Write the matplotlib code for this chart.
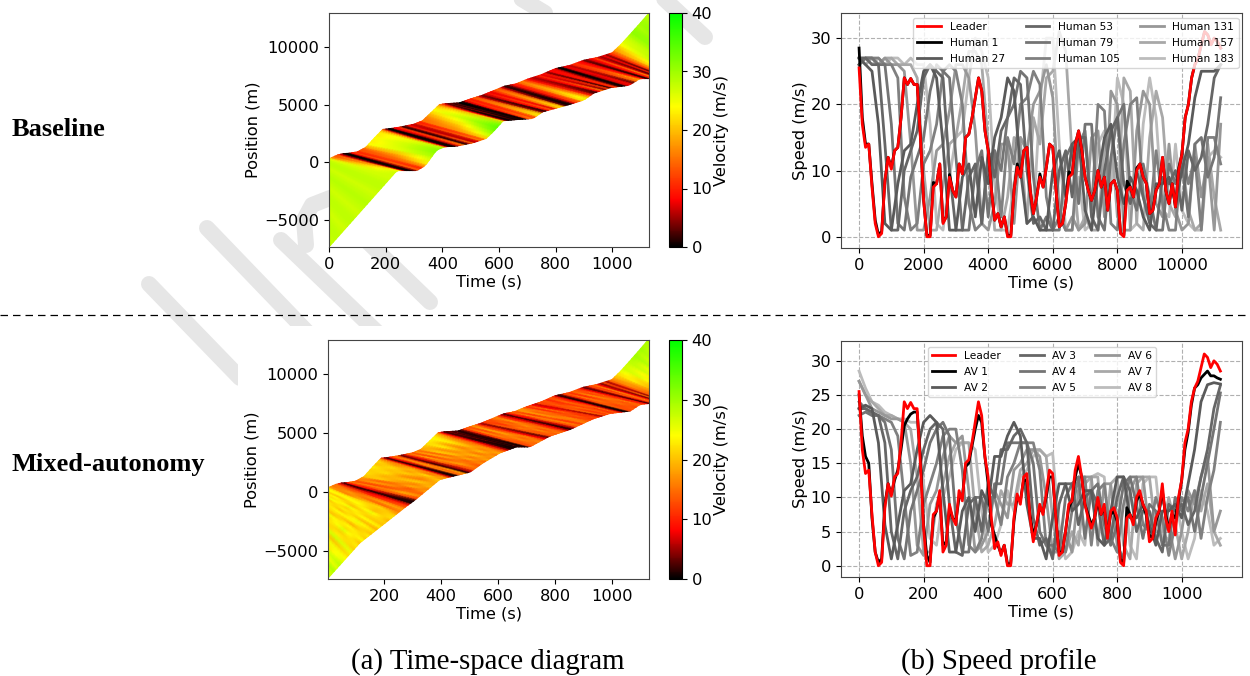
import matplotlib
matplotlib.use('Agg')
import matplotlib.pyplot as plt
import numpy as np
from matplotlib.colors import LinearSegmentedColormap
from matplotlib.lines import Line2D
from matplotlib.patches import Rectangle

#Leader speed, one value every 10 s (same leader in both rows)
leader = [25.5,17,13.5,14,7.5,2,0,0.5,8.5,12,
          10.2,13,13.5,18,24,23,23.9,23,23,15,
          5.5,0,0,7.5,8,11,2,3,9,7,
          6,11,9.5,15,15.5,18,21,24,22,16,
          13,7,2.5,3.5,1.5,3,0,0,7,10.5,
          9,13,13.5,7,3.5,6,9,7.5,10.5,14,
          13.5,7,1.5,2,5,9,9.5,14,16,13,
          9,7,5.5,7,10,7.5,9,4,8,8.5,
          7,0.5,0,7,7.5,6,10,11,9,8,
          3.5,4,7,8,12,7,5,8,4.5,10,
          12.5,18,20,24,26,27,29,31,30.5,29,
          30,29.5,28.5]
human_1 = [28.5,18,14,14,8,2.5,0.3,0.8,8.5,12,
           10.5,13,13.5,18,24,23,23.9,23,23,15,
           5.5,0.2,0.2,8.2,8,11,2.2,3,9.4,7,
           6,11,9.5,15,15.5,18,21,24,22,16,
           13,7,2.5,3.5,1.5,3,0.2,0.2,7,11,
           9,13,13.5,7,3.5,6,9.5,7.5,10.5,14,
           13.5,7,1.5,2,5,9.8,9.5,14,16,13,
           9,7,5.5,7,10,7.5,9,4,8,8.5,
           7,0.5,0.2,8.4,7.5,6,10.4,11,9,8,
           3.5,4,7,8,12,7,5,8,4.5,10.4,
           12.5,18,20,24,26,27,29,31,30.5,29,
           30,29.5,28.5]
av_1 = [25,19,16,15,7,2,0.5,1,9,12,
        10.5,12.5,14,17,20.5,21.5,22.2,22.5,22.5,16,
        6,1.5,0.5,7,8,10.5,3,3.5,8.5,7,
        6.5,10,10,14.5,15,17.5,20,22,21,16,
        12,6,4.5,3,1.8,3,0.3,0.3,6.5,10,
        9.5,12.5,12.5,7.5,4.5,6,8.5,7.8,10,13,
        13,7,2,2,5,8.5,9.5,13,15,13,
        9,7.5,6,7,9.5,7.5,8.5,4.5,7.5,8,
        6.5,1,0.3,8.5,7.5,6.5,9.5,10.5,9,7.5,
        4.5,4,6.5,8,11,7.5,5.5,7.5,7,9.5,
        12.5,17,19.5,23.5,26,26.5,27.5,28,28.5,27.8,
        27.8,27.5,27.3]

#Followers, one value every 20 s
human_27 = [27,26,25,17,2,1,8,13,14,20,
            25,26,24,14,1,1,9,11,3,12,
            8,15,18,24,22,10,2,3,1,1,
            10,13,6,14,15,4,1,9,15,17,
            9,5,9,7,3,1,8,8,9,5,
            10,14,21,25,25,25,26]
human_53 = [27,27,26,26,14,1,1,10,13,16,
            24,26,25,24,10,1,1,9,11,2,
            13,9,16,18,24,23,10,2,3,1,
            1,10,13,6,15,15,3,1,10,16,
            18,8,5,10,6,2,1,9,8,10,
            4,13,10,12,17,24,26]
human_79 = [26,27,27,26,26,17,2,1,9,12,
            15,22,26,25,24,12,1,1,10,13,
            3,13,10,18,20,25,24,9,1,3,
            1,1,12,14,5,17,17,3,1,12,
            18,20,7,4,11,6,1,1,11,8,
            11,3,14,15,9,12,21]
human_105 = [26,27,27,27,26,26,24,6,1,2,
             11,13,17,25,26,25,20,5,1,2,
             12,13,3,15,11,20,21,25,23,6,
             1,3,1,1,14,16,4,20,19,2,
             1,14,20,21,6,3,13,5,1,1,
             13,8,12,1,15,15,11]
human_131 = [26,27,27,26,27,26,26,25,14,1,
             1,6,13,14,19,26,26,24,16,2,
             1,5,14,14,2,15,13,20,22,26,
             21,4,1,3,1,2,15,16,3,22,
             20,1,1,16,22,20,5,3,14,4,
             1,2,14,6,12,1,17]
human_157 = [27,26,27,26,27,27,26,26,26,24,
             10,1,1,8,14,15,21,28,28,26,
             14,1,1,6,15,14,2,18,14,24,
             25,31,28,12,1,3,1,1,14,16,
             3,24,22,2,1,15,22,18,5,3,
             12,4,1,2,14,6,1]
human_183 = [27,27,26,27,26,27,27,26,27,26,
             26,17,2,1,9,15,16,24,30,28,
             24,8,1,1,8,15,13,3,20,30,
             30,14,1,1,9,1,2,14,16,7,
             24,20,1,2,17,24,18,4,3,14,
             4,2,1,1,12,13,12]

av_2 = [23,23.5,23,18,6,1,6,11,12,17,
        21,22,21,11,2,2,8,10,5,11,
        9,16,16,19,21,19,9,4,4,1,
        7,12,12,8,9,11,11,4,3,8,
        13,13,7,7,9,6,3,8,8,9,
        7,12,17,24,26.5,26.8,26.6]
av_3 = [23,23,22.5,22,18,5,1,8,11,13,
        17,20,21,20,9,2,1.5,9,10,5,
        12,10,17,17,19,20,18,7,3,4,
        1,9,12,12,6,10,11,9,3,4,
        10,13,11,5,8,8,4,2,9,8,
        9,6,8,13,17,23,26.4]
av_4 = [22,22.5,22,22,21,17,4,1,8,11,
        14,18,20,21,19,7,2,2,10,10,
        5,12,12,18,18,18,18,15,5,3,
        3,2,10,12,13,4,11,12,6,3,
        6,12,13,9,4,9,8,3,3,10,
        8,10,5,10,15,20,25.3]
av_5 = [24,23,22,22,21.5,21,19,10,1.5,2,
        9,12,15,19,20,20,14,3,2,4,
        10,10,6,13,15,18,18,18,14,3,
        1.5,5,2,8,13,13,3,11,12,4,
        2,9,13,13,6,5,10,7,1.5,6,
        10,8,11,4,10,14,21]
av_6 = [27,25,23,22.5,22,21.5,21.5,21,15,3,
        1.5,9,11,16,19,18,19,11,2,3,
        5,11,9,7,14,15,17,17,16,10,
        2,2,5,2,11,13,13,3,12,12,
        3,1,11,13,13,5,6,10,6,1,
        5,11,9,13,16,5,8]
av_7 = [27,25,24,23,22,22,21.5,21,20,13,
        2,2,9,12,16,18,18,18,8,2,
        3,6,11,9,9,14,15,17,17,16,
        7,1,2,5,3,12,13,13,3,12,
        13,3,1,12,13,13,5,5,10,6,
        1,5,11,8,12,5,3]
av_8 = [28.5,26,24,23.5,22.5,22,21.5,21.5,21,21,
        12,4,3,10,13,17,18,18,17,8,
        2,3,6,11,8,13,14,16,17,16,
        16.5,6,1,2,5,3,13,13.5,13,3,
        13,13,3,1,12,13,13,4,4,10,
        5,1,4,11,8,3,4]

#Platoon edges: leader on top, last vehicle at the bottom
top_t = [0,30,50,70,100,130,160,190,210,250,300,330,360,390,410,460,500,540,580,620,
         660,700,750,800,850,900,950,1000,1030,1060,1100,1130]
top_x = [300,630,750,780,900,1300,2100,2850,2900,3050,3300,3600,4300,5000,5080,5150,5500,5800,6200,6600,
         6800,7200,7600,8130,8400,8850,9100,9500,10200,11000,12100,12950]
tail_t_base = [0,240,270,310,340,380,410,450,510,555,580,615,660,720,755,840,900,935,995,1060,1098,1130]
tail_x_base = [-7350,-720,-720,-720,-290,1060,1350,1400,1700,2070,2650,3600,3700,3800,4380,4950,5400,6000,6480,6680,7260,7260]
tail_t_mix = [0,115,197,279,308,396,443,502,548,607,665,712,782,853,935,994,1064,1099,1130]
tail_x_mix = [-7400,-4320,-2770,-1210,-700,1050,1330,1670,2460,3300,3810,3810,4720,5280,6190,6640,6840,7400,7480]

#Velocity along the jam waves, every 10 s of wave time from -230 s to 1130 s
before_base = [27.5,28,27.5,28,28,27.5,27,27.5,28,28,27.5,27,27.5,28,28.5,28,27.5,27,27.5,28,28,27.5,27]
head_base = before_base + leader + [28]
mid_base = before_base + [26,22,18,16,5,1,0.5,1,5,14,
    11,14,16,20,26,27,27,26,25,10,
    2,0.5,0.5,5,10,12,1.5,3,11,6,
    6,13,11,17,19,22,25,28,26,19,
    8,1.5,1,4,1,2,0.5,0.5,9,12,
    10,17,17,5,1.5,8,12,8,14,18,
    16,4,1,1.5,6,10,11,17,20,16,
    10,6,4,8,12,6,10,2.5,9,10,
    4,0.5,0.5,6,8,5,12,14,10,8,
    2,3,8,10,15,7,3,9,3,11,
    15,21,24,27,28,28,29,30,31,31,
    31,31,31,31]
tail_base = before_base + [27,27,25,22,7,1,0.5,0.5,4,14,
    10,16,23,26,29,31,31,30,28,8,
    1,0.5,0.5,6,13,15,1,5,15,6,
    7,16,14,21,27,30,33,34,32,22,
    5,0.5,0.5,2,0.5,1,0.5,0.5,12,16,
    12,22,22,4,1,9,14,7,18,22,
    20,3,0.5,1,7,13,14,22,25,20,
    10,3,2,8,16,4,12,1,10,12,
    3,0.5,0.5,7,9,3,15,18,11,7,
    1,2,10,12,18,5,1.5,11,2,13,
    18,24,26,29,30,31,31,32,32,31,
    31,31,31,31]
head_mix = [24,22,25,21,26,20,24,22,25,20,23,21,25,20,22,24,20,23,21,25,20,22,24,
    24,18,15,16,11,6,1.5,8,14,15,
    13,16,17,20,22,21,23,20,22,14,
    6,1.5,8,14,15,13,3,6,13,15,
    13,17,15,18,20,22,23,24,22,16,
    8,3,2,4,2,3,1,2,11,14,
    13,17,16,10,5,11,13,12,15,16,
    13,7,2,7,12,14,13,17,18,15,
    11,13,9,6,13,12,14,10,13,13,
    7,1.5,3,12,13,11,14,14,12,9,
    3,5,12,13,15,9,4,13,5,14,
    16,20,22,25,27,27,28,29,30,29,
    30,29,29,28]
upper_mix = [22,25,21,24,22,26,21,24,20,25,21,23,20,24,22,21,24,20,25,22,24,20,23,
    24,16,18,14,12,5,1,9,12,17,
    12,18,14,21,19,22,20,22,18,15,
    7,1,7,12,18,12,3,7,11,19,
    12,19,14,21,17,23,18,23,19,13,
    9,3,2,3,2,2,1,3,10,17,
    12,19,13,11,4,14,11,15,13,18,
    11,8,2,8,10,17,11,18,14,16,
    10,15,8,7,11,14,12,11,15,11,
    8,1,3,10,16,10,17,12,14,8,
    3,5,13,11,17,7,5,12,6,13,
    17,18,23,22,26,24,27,25,28,26,
    27,26,28,25]
mid_mix = [24,22,25,21,26,20,24,22,25,20,23,21,25,20,22,24,20,23,21,25,20,22,24,
    23,20,15,17,10,8,1,6,14,16,
    13,17,15,18,20,17,21,18,20,15,
    8,1,4,15,17,14,2,5,15,17,
    14,18,15,20,17,19,16,20,17,14,
    8,2,1,3,1,2,1,2,12,16,
    15,18,15,9,4,13,16,14,17,15,
    14,7,2,6,14,16,13,17,15,14,
    12,14,11,6,14,13,15,12,14,13,
    8,1,2,13,15,13,16,14,12,9,
    3,5,14,13,16,8,4,14,5,14,
    15,17,19,20,21,22,21,22,23,22,
    22,23,22,23]
lower_mix = [27,25,28,24,26,22,25,20,27,23,21,26,22,24,19,23,25,20,24,21,22,25,20,
    20,22,14,19,12,9,1,3,13,19,
    15,13,19,16,21,16,18,22,16,16,
    7,1,2,16,14,18,2,5,12,18,
    16,14,19,15,20,15,20,16,18,12,
    7,2,1,2,1,2,1,1,13,13,
    17,14,17,8,3,14,13,17,13,16,
    11,8,1,6,12,17,11,15,17,12,
    14,11,12,5,15,11,14,13,11,15,
    6,1,1,14,12,15,13,16,10,10,
    2,6,11,15,13,9,3,15,4,15,
    13,19,17,22,19,23,20,23,21,24,
    21,24,21,24]
tail_mix = [28,27,29,26,28,26,24,22,25,21,23,20,24,21,23,20,22,19,23,20,21,19,22,
    22,18,16,18,14,10,1,1,12,17,
    14,18,16,20,18,19,21,17,19,14,
    6,0.5,1,14,16,17,1,6,14,15,
    13,17,14,19,16,18,15,19,16,13,
    6,1,0.5,1,0.5,2,0.5,1,12,15,
    14,17,14,8,3,12,15,13,16,14,
    13,6,1,5,13,15,12,16,14,13,
    11,13,10,5,13,12,14,11,13,12,
    7,0.5,1,12,14,12,15,13,11,8,
    2,4,13,12,15,7,3,13,4,13,
    15,17,19,20,21,22,21,22,23,22,
    22,23,22,23]

human_names = ['Human 27','Human 53','Human 79','Human 105','Human 131','Human 157','Human 183']
av_names = ['AV 2','AV 3','AV 4','AV 5','AV 6','AV 7','AV 8']
grays = ['#5a5a5a','#666666','#747474','#808080','#979797','#a8a8a8','#bcbcbc']

W,H = 1250,676
plt.rcParams['font.size'] = 11.7
fig = plt.figure(figsize=(W/100,H/100),dpi=100)

def box(x0,y0,x1,y1):
    return [x0/W,1-y1/H,(x1-x0)/W,(y1-y0)/H]

def stroke(xs,ys):
    fig.add_artist(Line2D(np.array(xs)/W,1-np.array(ys)/H,color='#e6e6e6',lw=11.5,
                          solid_capstyle='round',zorder=-2))

#Watermark behind the panels
stroke([149,240],[284,378])
stroke([207,310],[228,335])
stroke([281,380],[240,335])
stroke([340,430],[215,302])
stroke([660,705],[-5,37])
stroke([515,545],[-5,13])
stroke([306,304,312,330,350],[245,220,205,198,198])
fig.add_artist(Rectangle((238/W,0),1-238/W,1-326/H,transform=fig.transFigure,fc='white',ec='none',zorder=-1))

cdict = {'red':[(0,0,0),(0.2,1,1),(0.6,1,1),(1,0,0)],
         'green':[(0,0,0),(0.2,0,0),(0.6,1,1),(1,1,1)],
         'blue':[(0,0,0),(1,0,0)]}
cmap = LinearSegmentedColormap('velocity',cdict)

def time_space(pos,cpos,tail_t,tail_x,table,delay,xlim,ylim):
    ax = fig.add_axes(box(*pos))
    table = np.array(table,dtype=float)
    rows = np.linspace(0,1,table.shape[0])
    tau = -230+10*np.arange(table.shape[1])
    #each wave is a straight line from the leader down to the last vehicle
    s = np.linspace(0,1,25)
    V = np.array([np.interp(s,rows,table[:,j]) for j in range(table.shape[1])]).T
    X = tau[None,:]+(1-s)[:,None]*delay
    hi = np.interp(tau,top_t,top_x)
    lo = np.interp(tau+delay,tail_t,tail_x)
    Y = lo[None,:]+s[:,None]*(hi-lo)[None,:]
    m = ax.pcolormesh(X,Y,V,shading='gouraud',cmap=cmap,vmin=0,vmax=40)
    ax.set_xlim(*xlim)
    ax.set_ylim(*ylim)
    ax.set_xticks([t for t in range(0,1001,200) if t>=xlim[0]])
    ax.set_yticks([-5000,0,5000,10000])
    ax.set_xlabel('Time (s)',labelpad=2)
    ax.set_ylabel('Position (m)',labelpad=2.5)
    for sp in ax.spines.values():
        sp.set_color('#444444')
    cax = fig.add_axes(box(*cpos))
    cb = fig.colorbar(m,cax=cax,ticks=[0,10,20,30,40])
    cb.set_label('Velocity (m/s)',labelpad=1)
    return ax

def speed(pos,scale,first,first_name,names,series,xlim,ylim,yticks,xticks,anchor,cs):
    ax = fig.add_axes(box(*pos))
    fine = np.arange(len(leader))*10*scale
    ax.plot(fine,leader,color='red',lw=2,label='Leader',zorder=5)
    ax.plot(fine,first,color='k',lw=2,label=first_name,zorder=4)
    for i in range(len(series)):
        t = np.arange(len(series[i]))*20*scale
        ax.plot(t,series[i],color=grays[i],lw=2,label=names[i],zorder=3-i*0.1)
    ax.grid(True,ls='--',lw=0.8,color='#b0b0b0')
    ax.set_xlim(*xlim)
    ax.set_ylim(*ylim)
    ax.set_xticks(xticks)
    ax.set_yticks(yticks)
    ax.set_xlabel('Time (s)',labelpad=2)
    ax.set_ylabel('Speed (m/s)',labelpad=2)
    for sp in ax.spines.values():
        sp.set_color('#444444')
    leg = ax.legend(ncol=3,fontsize=7.7,loc='upper left',bbox_to_anchor=anchor,columnspacing=cs,
                    handlelength=2.2,labelspacing=0.55,borderaxespad=0)
    leg.set_zorder(10)
    return ax

time_space((329,13,649,247),(669,13,682,247),tail_t_base,tail_x_base,[tail_base,mid_base,head_base],225,(0,1130),(-7350,12950))
time_space((328,340,649,579),(669,340,682,579),tail_t_mix,tail_x_mix,[tail_mix,lower_mix,mid_mix,upper_mix,head_mix],235,(3.5,1130),(-7370,12850))

speed((841,13,1242,248),10,human_1,'Human 1',human_names,
      [human_27,human_53,human_79,human_105,human_131,human_157,human_183],
      (-560,11860),(-1.7,33.8),[0,10,20,30],[0,2000,4000,6000,8000,10000],(0.18,0.98),1.95)
speed((841,341,1242,577),1,av_1,'AV 1',av_names,[av_2,av_3,av_4,av_5,av_6,av_7,av_8],
      (-56,1187),(-1.65,32.9),[0,5,10,15,20,25,30],[0,200,400,600,800,1000],(0.216,0.975),1.8)

#Page furniture
fig.add_artist(Line2D([0,1],[1-315/H,1-315/H],color='k',lw=0.9,ls=(0,(6,4))))
serif = ['Liberation Serif','DejaVu Serif']
fig.text(12/W,1-130/H,'Baseline',family=serif,weight='bold',fontsize=19,va='center')
fig.text(12/W,1-465/H,'Mixed-autonomy',family=serif,weight='bold',fontsize=19,va='center')
fig.text(488/W,1-662/H,'(a) Time-space diagram',family=serif,fontsize=20.8,va='center',ha='center')
fig.text(999/W,1-662/H,'(b) Speed profile',family=serif,fontsize=20.8,va='center',ha='center')

fig.savefig('out.png',dpi=100)
